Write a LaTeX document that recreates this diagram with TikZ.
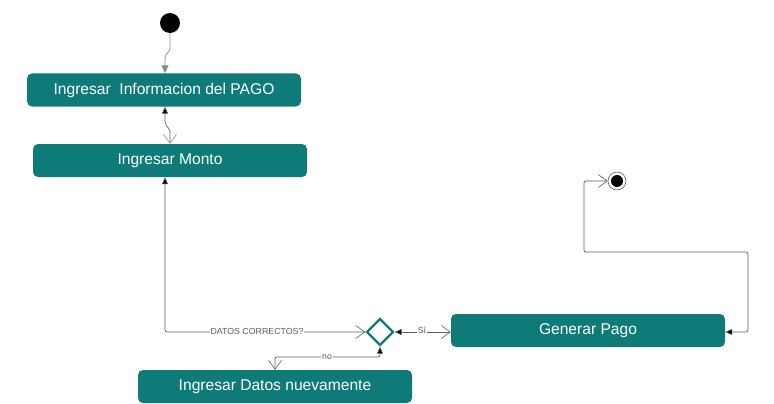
\documentclass[tikz,border=0pt]{standalone}
\usepackage{fontspec}
\setmainfont{Liberation Sans}
\usetikzlibrary{arrows.meta,shapes.geometric,calc}
\definecolor{teal1}{HTML}{0E7B79}
\definecolor{ln}{HTML}{5C5C5C}
\definecolor{lg}{HTML}{8A8A8A}
\begin{document}
\begin{tikzpicture}[x=1pt,y=-1pt,
  box/.style={fill=teal1, rounded corners=5pt, minimum width=274pt, minimum height=33pt, text=white, font=\fontsize{15.6}{18}\selectfont, inner sep=0pt},
  conn/.style={draw=ln, line width=0.7pt, rounded corners=2pt},
  lbl/.style={fill=white, text=ln, font=\fontsize{8.8}{10}\selectfont, inner sep=1pt}
]
\useasboundingbox (0,0) rectangle (774,404);
\node[circle, fill=black, minimum size=20pt, inner sep=0pt] (start) at (170,23) {};
\node[box] (b1) at (164,90) {Ingresar\ \ Informacion del PAGO};
\node[box] (b2) at (170,160.5) {Ingresar Monto};
\node[box] (b3) at (588,330.5) {Generar Pago};
\node[box] (b4) at (275,386.5) {Ingresar Datos nuevamente};
\node[diamond, draw=teal1, line width=2.4pt, fill=white, minimum size=27pt, inner sep=0pt] (d) at (380,332) {};
\node[circle, draw=ln, line width=0.6pt, fill=white, minimum size=18pt, inner sep=0pt] (end) at (617,181) {};
\node[circle, fill=black, minimum size=12pt, inner sep=0pt] (endin) at (end.center) {};

\draw[conn, draw=lg, -{Triangle[length=8pt,width=7pt,fill=lg]}] (start.south) -- (170,50) -- (165,56) -- ($(b1.north)+(1,0)$);
\draw[conn, {Straight Barb[length=9pt,width=13pt,line width=0.6pt,color=lg]}-{Triangle[length=7pt,width=6pt,fill=black]}] (b2.north) -- (170,130) -- (165,124) -- ($(b1.south)+(1,0)$);
\draw[conn, {Triangle[length=7pt,width=6pt,fill=black]}-{Straight Barb[length=9pt,width=13pt,line width=0.6pt]}] ($(b2.south)+(-5,0)$) -- (165,332) -- (d.west);
\node[lbl] (l1) at (257,331) {DATOS CORRECTOS?};
\draw[conn, {Straight Barb[length=9pt,width=13pt,line width=0.6pt]}-{Triangle[length=7pt,width=6pt,fill=black]}] (b3.west |- d) -- (d.east);
\node[lbl] (l2) at (422,330) {Sí};
\draw[conn, {Triangle[length=7pt,width=6pt,fill=black]}-{Straight Barb[length=9pt,width=13pt,line width=0.6pt]}] (d.south) -- (380,357) -- (275,357) -- (b4.north);
\node[lbl] (l3) at (327,357) {no};
\draw[conn, {Triangle[length=7pt,width=6pt,fill=black]}-{Straight Barb[length=9pt,width=13pt,line width=0.6pt]}] (b3.east |- d) -- (748,332) -- (748,252) -- (584,252) -- (584,181) -- (end.west);
\end{tikzpicture}
\end{document}
